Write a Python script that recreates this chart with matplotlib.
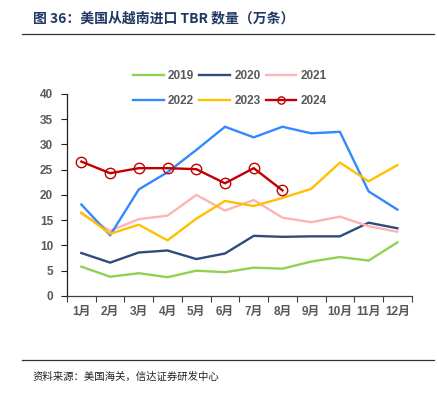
import matplotlib
matplotlib.use("Agg")
import matplotlib.pyplot as plt
import numpy as np

months = ["1月", "2月", "3月", "4月", "5月", "6月", "7月", "8月", "9月", "10月", "11月", "12月"]
y2019 = [5.8, 3.8, 4.5, 3.7, 5.0, 4.7, 5.6, 5.4, 6.8, 7.7, 7.0, 10.6]
y2020 = [8.5, 6.6, 8.6, 9.0, 7.3, 8.4, 11.9, 11.7, 11.8, 11.8, 14.5, 13.4]
y2021 = [16.3, 12.9, 15.2, 15.9, 20.0, 16.9, 19.0, 15.5, 14.6, 15.7, 13.8, 12.7]
y2022 = [18.1, 12.0, 21.1, 24.5, 28.9, 33.5, 31.4, 33.5, 32.2, 32.5, 20.7, 17.1]
y2023 = [16.5, 12.3, 14.1, 11.0, 15.3, 18.8, 17.8, 19.4, 21.2, 26.4, 22.7, 25.9]
y2024 = [26.6, 24.3, 25.3, 25.3, 25.1, 22.3, 25.3, 20.9]
yticks = [0, 5, 10, 15, 20, 25, 30, 35, 40]

fam = ["Liberation Sans", "Noto Sans CJK SC", "DejaVu Sans"]
plt.rcParams["font.family"] = fam

fig = plt.figure(figsize=(4.38, 3.93), dpi=100)
ax = fig.add_axes([0.153, 0.247, 0.787, 0.514])

x = np.arange(1, 13)
lw = 1.7
h19, = ax.plot(x, y2019, color="#92D050", lw=lw, label="2019")
h20, = ax.plot(x, y2020, color="#2F4A7C", lw=lw, label="2020")
h21, = ax.plot(x, y2021, color="#FFB3B3", lw=lw, label="2021")
h22, = ax.plot(x, y2022, color="#3388FF", lw=lw, label="2022")
h23, = ax.plot(x, y2023, color="#FFC000", lw=lw, label="2023")
h24, = ax.plot(x[:len(y2024)], y2024, color="#C00000", lw=lw, marker="o", ms=7.5,
               mfc="none", mec="#C00000", mew=1.0, label="2024")

ax.set_xlim(0.5, 12.5)
ax.set_ylim(0, 40)
ax.set_yticks(yticks)
ax.set_xticks(x)
ax.set_xticklabels(months)
ax.set_xticks(np.arange(0.5, 13.0, 1.0), minor=True)
ax.tick_params(axis="x", which="major", length=0, pad=7, labelsize=8.5, labelcolor="#595959")
ax.tick_params(axis="x", which="minor", length=4, width=0.8, color="#404040", direction="out")
ax.tick_params(axis="y", length=4, width=0.8, color="#202020", labelsize=8.5, labelcolor="#595959", pad=6)
for lab in ax.get_xticklabels() + ax.get_yticklabels():
    lab.set_fontweight("bold")
for s in ["top", "right"]:
    ax.spines[s].set_visible(False)
ax.spines["left"].set_color("#202020")
ax.spines["bottom"].set_color("#404040")
ax.spines["left"].set_linewidth(0.9)
ax.spines["bottom"].set_linewidth(0.9)

handles = [h19, h22, h20, h23, h21, h24]
leg = fig.legend(handles=handles, labels=[h.get_label() for h in handles],
                 loc="center", bbox_to_anchor=(0.525, 0.774), ncol=3, frameon=False,
                 prop={"family": fam, "weight": "bold", "size": 8.5},
                 handlelength=2.6, handletextpad=0.35, columnspacing=0.45, labelspacing=1.1,
                 markerscale=0.7)
for t in leg.get_texts():
    t.set_color("#595959")

fig.text(0.075, 0.952, "图 36：美国从越南进口 TBR 数量（万条）", fontsize=10, fontweight="bold",
         color="#1F3864", va="center", ha="left", family=["Noto Sans CJK SC", "DejaVu Sans"])
fig.add_artist(plt.Line2D([0.05, 0.99], [0.913, 0.913], color="#333333", lw=0.9))
fig.add_artist(plt.Line2D([0.05, 0.99], [0.084, 0.084], color="#333333", lw=0.9))
fig.text(0.075, 0.04, "资料来源：美国海关，信达证券研发中心", fontsize=7.5, style="italic",
         color="#222222", va="center", ha="left", family=["Noto Sans CJK SC", "DejaVu Sans"])

fig.savefig("out.png", dpi=100)
